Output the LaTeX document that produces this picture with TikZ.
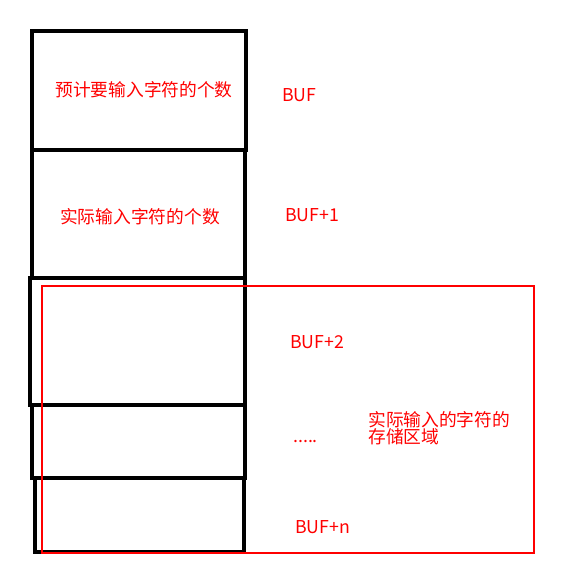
\documentclass[tikz,border=0pt]{standalone}
\usepackage{fontspec}
\setmainfont{Noto Sans CJK SC}
\tikzset{
  cell/.style={draw=black, line width=2.4pt},
  region/.style={draw=red, line width=1.3pt},
  lbl/.style={text=red, font=\fontsize{13.3pt}{13pt}\selectfont, inner sep=0pt}
}
\begin{document}
\begin{tikzpicture}[x=0.75pt, y=-0.75pt]
        \useasboundingbox (0,0) rectangle (580,566);
        \draw[cell] (32,31) rectangle (246,150);
        \draw[cell] (32,150) rectangle (245,278);
        \draw[cell] (30,278) rectangle (245,405);
        \draw[cell] (32,405) rectangle (245,478);
        \draw[cell] (35,478) rectangle (244,552);
        \draw[region] (42,286) rectangle (534,553);
        \node[lbl] (expect) at (144,90) {预计要输入字符的个数};
        \node[lbl] (actual) at (140,217) {实际输入字符的个数};
        \node[lbl, anchor=west] (buf0) at (282,95) {BUF};
        \node[lbl, anchor=west] (buf1) at (285,215) {BUF+1};
        \node[lbl, anchor=west] (buf2) at (290,342) {BUF+2};
        \node[lbl, anchor=west] (dots) at (293,441) {.....};
        \node[lbl, anchor=west, align=left] (store) at (368,428) {实际输入的字符的\\存储区域};
        \node[lbl, anchor=west] (bufn) at (295,527) {BUF+n};
    \end{tikzpicture}
\end{document}
